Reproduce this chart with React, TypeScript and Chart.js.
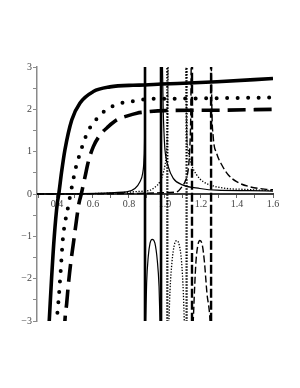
import React, { useEffect, useRef } from "react";
import { Chart, registerables } from "chart.js";

Chart.register(...registerables);

// ---- axis ranges & ticks ----
const xMin = 0.289;
const xMax = 1.6;
const yMin = -3;
const yMax = 3;
const xTickValues = [0.3, 0.4, 0.5, 0.6, 0.7, 0.8, 0.9, 1.0, 1.1, 1.2, 1.3, 1.4, 1.5, 1.6];
const yTickValues = [-3, -2.5, -2, -1.5, -1, -0.5, 0, 0.5, 1, 1.5, 2, 2.5, 3];

// ---- thick curves ----
const thickSolidX = [0.353, 0.357, 0.37, 0.385, 0.402, 0.41, 0.425, 0.444, 0.482, 0.528, 0.602, 0.694, 0.822, 0.889, 0.978, 1.07, 1.289, 1.6];
const thickSolidY = [-3.3, -3.0, -1.99, -1.0, -0.21, 0.0, 0.5, 1.04, 1.75, 2.15, 2.42, 2.53, 2.57, 2.575, 2.6, 2.61, 2.65, 2.73];

const thickDotX = [0.398, 0.4, 0.41, 0.42, 0.433, 0.448, 0.462, 0.475, 0.494, 0.506, 0.522, 0.543, 0.561, 0.587, 0.624, 0.667, 0.722, 0.778, 0.839, 0.898, 1.0, 1.2, 1.4, 1.6];
const thickDotY = [-3.3, -3.0, -2.45, -1.85, -1.05, -0.6, -0.3, 0.0, 0.41, 0.645, 0.88, 1.16, 1.37, 1.59, 1.79, 1.97, 2.1, 2.17, 2.2, 2.24, 2.25, 2.26, 2.27, 2.28];

const thickDashX = [0.441, 0.444, 0.454, 0.463, 0.476, 0.491, 0.506, 0.522, 0.535, 0.556, 0.574, 0.602, 0.639, 0.685, 0.732, 0.787, 0.843, 0.898, 1.0, 1.3, 1.6];
const thickDashY = [-3.3, -3.0, -2.58, -2.15, -1.64, -1.17, -0.69, -0.22, 0.0, 0.41, 0.76, 1.12, 1.39, 1.59, 1.75, 1.84, 1.91, 1.94, 1.97, 1.98, 2.0];

// vertical jumps of the thick curves
const thickSolidJumps = [0.889, 0.978];
const thickDotJumps = [1.013, 1.12];
const thickDashJumps = [1.15, 1.256];

// ---- thin curves (three branches each) ----
const thinSolidLeftX = [0.289, 0.5, 0.65, 0.72, 0.787, 0.833, 0.861, 0.876, 0.883, 0.887, 0.8895];
const thinSolidLeftY = [0.0, 0.005, 0.02, 0.035, 0.05, 0.13, 0.29, 0.49, 0.8, 1.44, 3.3];
const thinSolidMidX = [0.891, 0.893, 0.898, 0.907, 0.917, 0.929, 0.944, 0.957, 0.967, 0.972, 0.974];
const thinSolidMidY = [-3.3, -2.98, -2.1, -1.48, -1.16, -1.07, -1.16, -1.56, -2.19, -2.98, -3.3];
const thinSolidRightX = [0.985, 0.99, 0.995, 1.0, 1.018, 1.046, 1.101, 1.194, 1.287, 1.472, 1.6];
const thinSolidRightY = [3.3, 2.0, 1.4, 1.04, 0.645, 0.37, 0.21, 0.13, 0.09, 0.08, 0.07];

const thinDotLeftX = [0.289, 0.6, 0.75, 0.85, 0.917, 0.944, 0.972, 0.99, 1.0, 1.008, 1.013, 1.016, 1.0175];
const thinDotLeftY = [0.0, 0.01, 0.03, 0.06, 0.09, 0.16, 0.29, 0.49, 0.68, 0.95, 1.4, 2.3, 3.3];
const thinDotMidX = [1.019, 1.022, 1.028, 1.039, 1.052, 1.065, 1.079, 1.092, 1.102, 1.107, 1.109];
const thinDotMidY = [-3.3, -2.98, -2.27, -1.6, -1.2, -1.1, -1.2, -1.6, -2.34, -2.98, -3.3];
const thinDotRightX = [1.116, 1.12, 1.129, 1.148, 1.176, 1.213, 1.268, 1.343, 1.435, 1.546, 1.6];
const thinDotRightY = [3.3, 1.6, 1.04, 0.69, 0.45, 0.29, 0.19, 0.13, 0.11, 0.09, 0.085];

const thinDashLeftX = [0.289, 0.8, 0.95, 1.02, 1.065, 1.094, 1.111, 1.126, 1.134, 1.139, 1.143, 1.146];
const thinDashLeftY = [0.0, 0.01, 0.025, 0.035, 0.05, 0.17, 0.29, 0.49, 0.8, 1.2, 1.83, 3.3];
const thinDashMidX = [1.152, 1.157, 1.164, 1.172, 1.183, 1.194, 1.207, 1.219, 1.233, 1.25, 1.253];
const thinDashMidY = [-3.3, -2.98, -2.27, -1.6, -1.2, -1.1, -1.2, -1.6, -2.34, -2.98, -3.3];
const thinDashRightX = [1.257, 1.26, 1.268, 1.287, 1.315, 1.352, 1.398, 1.472, 1.565, 1.6];
const thinDashRightY = [3.3, 2.1, 1.35, 0.96, 0.69, 0.45, 0.29, 0.17, 0.11, 0.1];

const zip = (xs: number[], ys: number[]) => xs.map((x, i) => ({ x, y: ys[i] }));
const vertical = (x: number) => [{ x, y: -3.3 }, { x, y: 3.3 }];

const INK = "#000000";

export default function App() {
  const ref = useRef<HTMLCanvasElement | null>(null);

  useEffect(() => {
    const canvas = ref.current;
    if (!canvas) return;

    const base = {
      pointRadius: 0,
      pointHoverRadius: 0,
      fill: false,
      borderColor: INK,
      cubicInterpolationMode: "monotone" as const,
    };

    const datasets: any[] = [];

    // thin curves
    const thinSolid = { ...base, borderWidth: 1.2 };
    const thinDot = { ...base, borderWidth: 1.3, borderDash: [1.3, 1.6] };
    const thinDash = { ...base, borderWidth: 1.4, borderDash: [7, 3] };
    datasets.push({ ...thinSolid, data: zip(thinSolidLeftX, thinSolidLeftY) });
    datasets.push({ ...thinSolid, data: zip(thinSolidMidX, thinSolidMidY) });
    datasets.push({ ...thinSolid, data: zip(thinSolidRightX, thinSolidRightY) });
    datasets.push({ ...thinDot, data: zip(thinDotLeftX, thinDotLeftY) });
    datasets.push({ ...thinDot, data: zip(thinDotMidX, thinDotMidY) });
    datasets.push({ ...thinDot, data: zip(thinDotRightX, thinDotRightY) });
    datasets.push({ ...thinDash, data: zip(thinDashLeftX, thinDashLeftY) });
    datasets.push({ ...thinDash, data: zip(thinDashMidX, thinDashMidY) });
    datasets.push({ ...thinDash, data: zip(thinDashRightX, thinDashRightY) });

    // vertical jumps
    thickSolidJumps.forEach((x) =>
      datasets.push({ ...base, borderWidth: 2.6, data: vertical(x) })
    );
    thickDotJumps.forEach((x) =>
      datasets.push({ ...base, borderWidth: 2.2, borderDash: [1.5, 1.5], data: vertical(x) })
    );
    thickDashJumps.forEach((x) =>
      datasets.push({ ...base, borderWidth: 2.4, borderDash: [9, 3], data: vertical(x) })
    );

    // thick curves
    datasets.push({
      ...base,
      borderWidth: 3.6,
      borderJoinStyle: "round",
      data: zip(thickSolidX, thickSolidY),
    });
    datasets.push({
      ...base,
      borderWidth: 4,
      borderCapStyle: "round",
      borderDash: [0, 10.5],
      data: zip(thickDotX, thickDotY),
    });
    datasets.push({
      ...base,
      borderWidth: 3.6,
      borderDash: [18, 8],
      data: zip(thickDashX, thickDashY),
    });

    const font = { family: "'Liberation Serif', 'DejaVu Serif', serif", size: 10 };

    const chart = new Chart(canvas, {
      type: "line",
      data: { datasets },
      options: {
        animation: false,
        responsive: false,
        devicePixelRatio: 1,
        events: [],
        layout: { padding: { top: 67, bottom: 67, left: 0, right: 27 } },
        plugins: { legend: { display: false }, tooltip: { enabled: false } },
        scales: {
          x: {
            type: "linear",
            min: xMin,
            max: xMax,
            position: { y: 0 } as any,
            afterFit: (s: any) => {
              s.height = 0;
            },
            afterBuildTicks: (s: any) => {
              s.ticks = xTickValues.map((value) => ({ value }));
            },
            border: { display: true, color: "#3a3a3a", width: 2 },
            grid: {
              display: true,
              drawOnChartArea: false,
              drawTicks: true,
              tickLength: 3,
              color: "#666666",
              lineWidth: 1,
            },
            ticks: {
              autoSkip: false,
              maxRotation: 0,
              padding: 1,
              color: "#444444",
              font,
              callback: (v: any) => {
                const n = Math.round(Number(v) * 10);
                if (n % 2 !== 0) return "";
                return (n / 10).toFixed(1);
              },
            },
          },
          y: {
            type: "linear",
            min: yMin,
            max: yMax,
            position: "left",
            afterFit: (s: any) => {
              s.width = 37;
            },
            afterBuildTicks: (s: any) => {
              s.ticks = yTickValues.map((value) => ({ value }));
            },
            border: { display: true, color: "#8a8a8a", width: 1.5 },
            grid: {
              display: true,
              drawOnChartArea: false,
              drawTicks: true,
              tickLength: 4,
              color: "#8a8a8a",
              lineWidth: 1,
            },
            ticks: {
              autoSkip: false,
              padding: 1,
              color: "#444444",
              font,
              callback: (v: any) => {
                const n = Number(v);
                if (!Number.isInteger(n)) return "";
                return n < 0 ? "\u2212" + Math.abs(n) : String(n);
              },
            },
          },
        },
      },
    });

    return () => chart.destroy();
  }, []);

  return (
    <div style={{ position: "absolute", left: 0, top: 0, width: 300, height: 388, background: "#ffffff" }}>
      <canvas ref={ref} width={300} height={388} style={{ display: "block", width: 300, height: 388 }} />
    </div>
  );
}
